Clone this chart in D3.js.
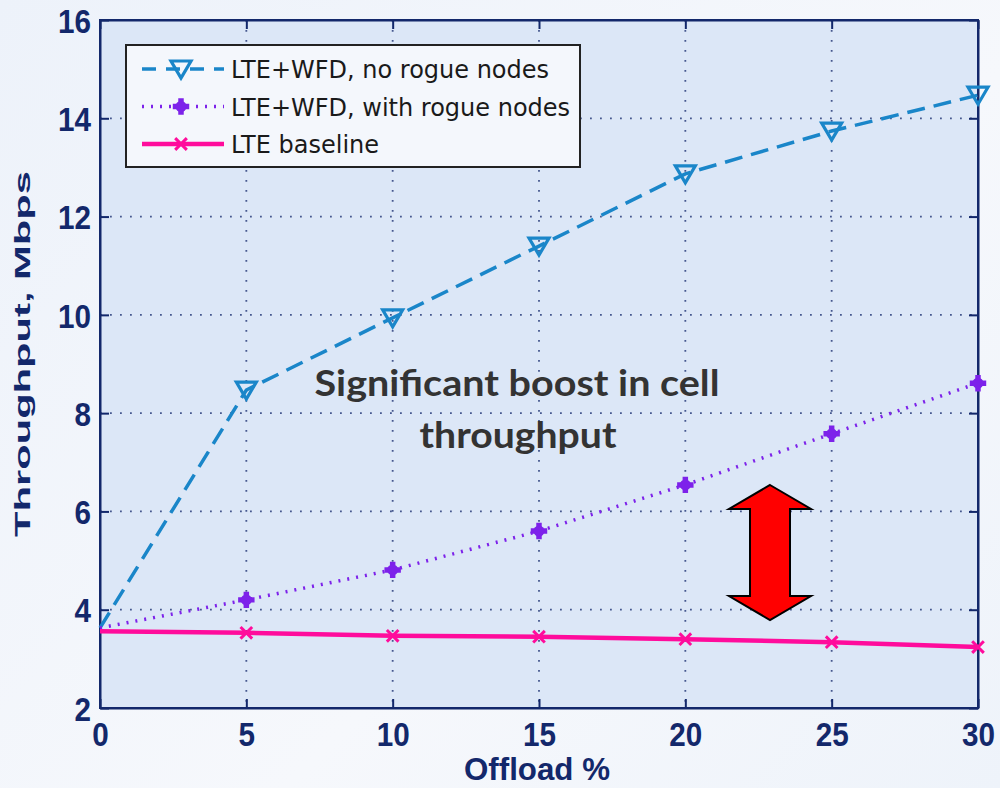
<!DOCTYPE html>
<html>
<head>
<meta charset="utf-8">
<script src="https://cdn.jsdelivr.net/npm/d3@7"></script>
<style>
  html, body { margin: 0; padding: 0; }
  body { width: 1000px; height: 788px; overflow: hidden; background: linear-gradient(135deg, #edf2fa 0%, #f6f8fc 60%, #eef3fa 100%); }
</style>
</head>
<body>
<script>
// chart data
var offload = [0, 5, 10, 15, 20, 25, 30];
var noRogue = [3.63, 8.47, 9.94, 11.40, 12.87, 13.74, 14.47];
var withRogue = [3.63, 4.20, 4.81, 5.60, 6.54, 7.58, 8.61];
var baseline = [3.56, 3.53, 3.47, 3.45, 3.40, 3.34, 3.24];
var xTicks = [0, 5, 10, 15, 20, 25, 30];
var yTicks = [2, 4, 6, 8, 10, 12, 14, 16];

var seriesList = [
  { name: "LTE+WFD, no rogue nodes", values: noRogue, color: "#1a86c9", dash: "18,9", marker: "tri" },
  { name: "LTE+WFD, with rogue nodes", values: withRogue, color: "#7d22ea", dash: "2,7", marker: "star" },
  { name: "LTE baseline", values: baseline, color: "#ff0c9c", dash: null, marker: "x" }
];

var W = 1000, H = 788;
var pL = 100, pR = 978, pT = 20, pB = 708;
var navy = "#13286b";

var svg = d3.select("body").append("svg").attr("width", W).attr("height", H);

var x = d3.scaleLinear().domain([0, 30]).range([pL, pR]);
var y = d3.scaleLinear().domain([2, 16]).range([pB, pT]);

// plot background
svg.append("rect").attr("x", pL).attr("y", pT).attr("width", pR - pL).attr("height", pB - pT)
  .attr("fill", "#dce7f7");

// grid (dotted)
var grid = svg.append("g");
xTicks.slice(1, -1).forEach(function(t) {
  grid.append("line").attr("x1", x(t)).attr("x2", x(t)).attr("y1", pT).attr("y2", pB)
    .attr("stroke", navy).attr("stroke-width", 1.8).attr("stroke-dasharray", "1.8,8.2").attr("opacity", 0.75);
});
yTicks.slice(1, -1).forEach(function(t) {
  grid.append("line").attr("x1", pL).attr("x2", pR).attr("y1", y(t)).attr("y2", y(t))
    .attr("stroke", navy).attr("stroke-width", 1.8).attr("stroke-dasharray", "1.8,8.2").attr("opacity", 0.75);
});

// axes
var xAxis = d3.axisBottom(x).tickValues(xTicks).tickSize(-9).tickPadding(14).tickSizeOuter(0);
var yAxis = d3.axisLeft(y).tickValues(yTicks).tickSize(-9).tickPadding(9).tickSizeOuter(0);

var gx = svg.append("g").attr("transform", "translate(0," + pB + ")").call(xAxis);
var gy = svg.append("g").attr("transform", "translate(" + pL + ",0)").call(yAxis);
svg.append("g").attr("transform", "translate(0," + pT + ")")
  .call(d3.axisTop(x).tickValues(xTicks).tickSize(-9).tickFormat("").tickSizeOuter(0));
svg.append("g").attr("transform", "translate(" + pR + ",0)")
  .call(d3.axisRight(y).tickValues(yTicks).tickSize(-9).tickFormat("").tickSizeOuter(0));

svg.selectAll(".domain").attr("stroke", navy).attr("stroke-width", 2);
svg.selectAll(".tick line").attr("stroke", navy).attr("stroke-width", 2);
svg.selectAll(".tick text").attr("fill", navy).attr("font-family", "Liberation Sans, Arial, sans-serif")
  .attr("font-weight", "bold").attr("font-size", "34px")
  .attr("textLength", function(d) { return String(d).length * 16.5; })
  .attr("lengthAdjust", "spacingAndGlyphs");
gy.selectAll(".tick text").attr("dy", "0.36em");
gx.selectAll(".tick text").attr("dy", "0.71em");

// frame
svg.append("rect").attr("x", pL).attr("y", pT).attr("width", pR - pL).attr("height", pB - pT)
  .attr("fill", "none").attr("stroke", navy).attr("stroke-width", 2);

// axis labels
svg.append("text").attr("x", x(15) - 2).attr("y", 780).attr("text-anchor", "middle")
  .attr("fill", navy).attr("font-family", "Liberation Sans, Arial, sans-serif").attr("font-weight", "bold")
  .attr("font-size", "31px").attr("textLength", 146).attr("lengthAdjust", "spacingAndGlyphs").text("Offload %");
svg.append("text").attr("transform", "translate(30,354) rotate(-90)").attr("text-anchor", "middle")
  .attr("fill", navy).attr("font-family", "Liberation Sans, Arial, sans-serif").attr("font-weight", "bold")
  .attr("font-size", "22px").attr("textLength", 366).attr("lengthAdjust", "spacingAndGlyphs").text("Throughput, Mbps");

// markers
function drawMarker(g, type, cx, cy, color) {
  if (type === "tri") {
    g.append("path").attr("d", "M" + (cx - 10) + "," + (cy - 8) + " L" + (cx + 10) + "," + (cy - 8) + " L" + cx + "," + (cy + 9) + " Z")
      .attr("fill", "none").attr("stroke", color).attr("stroke-width", 3.2);
  } else if (type === "star") {
    g.append("path").attr("d", d3.symbol().type(d3.symbolCross).size(150)()).attr("transform", "translate(" + cx + "," + cy + ")")
      .attr("fill", color);
    g.append("circle").attr("cx", cx).attr("cy", cy).attr("r", 5.5).attr("fill", color);
  } else {
    g.append("path").attr("d", d3.symbol().type(d3.symbolX).size(90)()).attr("transform", "translate(" + cx + "," + cy + ")")
      .attr("fill", "none").attr("stroke", color).attr("stroke-width", 3);
  }
}

var line = d3.line().x(function(d, i) { return x(offload[i]); }).y(function(d) { return y(d); });

seriesList.forEach(function(s) {
  var g = svg.append("g");
  g.append("path").datum(s.values).attr("d", line).attr("fill", "none").attr("stroke", s.color)
    .attr("stroke-width", s.marker === "x" ? 4.5 : 3.5).attr("stroke-dasharray", s.dash);
  s.values.forEach(function(v, i) {
    if (i === 0) return;
    drawMarker(g, s.marker, x(offload[i]), y(v), s.color);
  });
});

// legend
var lg = svg.append("g");
lg.append("rect").attr("x", 126).attr("y", 45).attr("width", 454).attr("height", 122)
  .attr("fill", "#f4f7fc").attr("stroke", "#222").attr("stroke-width", 2);
seriesList.forEach(function(s, i) {
  var ly = 69 + i * 37.5;
  lg.append("line").attr("x1", 142).attr("x2", 224).attr("y1", ly).attr("y2", ly)
    .attr("stroke", s.color).attr("stroke-width", s.marker === "x" ? 4.5 : 3.5)
    .attr("stroke-dasharray", s.marker === "tri" ? "14,10" : s.dash);
  drawMarker(lg, s.marker, 181, ly, s.color);
  lg.append("text").attr("x", 231).attr("y", ly + 9).attr("fill", "#1a1a1a")
    .attr("font-family", "DejaVu Sans, Verdana, sans-serif").attr("font-size", "24px").text(s.name);
});

// annotation
var ann = svg.append("text").attr("text-anchor", "middle").attr("fill", "#333333")
  .attr("font-family", "Lato, 'Open Sans', sans-serif").attr("font-weight", "bold").attr("font-size", "37px")
  .attr("lengthAdjust", "spacingAndGlyphs");
ann.append("tspan").attr("x", 517).attr("y", 396).attr("textLength", 405).attr("lengthAdjust", "spacingAndGlyphs")
  .text("Significant boost in cell");
ann.append("tspan").attr("x", 518).attr("y", 448).attr("textLength", 197).attr("lengthAdjust", "spacingAndGlyphs")
  .text("throughput");

// red double arrow
var ax = 770, at = 485, ab = 620;
svg.append("path")
  .attr("d", "M" + ax + "," + at + " L" + (ax + 41) + "," + (at + 24) + " L" + (ax + 20) + "," + (at + 24) +
    " L" + (ax + 20) + "," + (ab - 24) + " L" + (ax + 41) + "," + (ab - 24) + " L" + ax + "," + ab +
    " L" + (ax - 41) + "," + (ab - 24) + " L" + (ax - 20) + "," + (ab - 24) + " L" + (ax - 20) + "," + (at + 24) +
    " L" + (ax - 41) + "," + (at + 24) + " Z")
  .attr("fill", "#ff0000").attr("stroke", "#000").attr("stroke-width", 2);
</script>
</body>
</html>
